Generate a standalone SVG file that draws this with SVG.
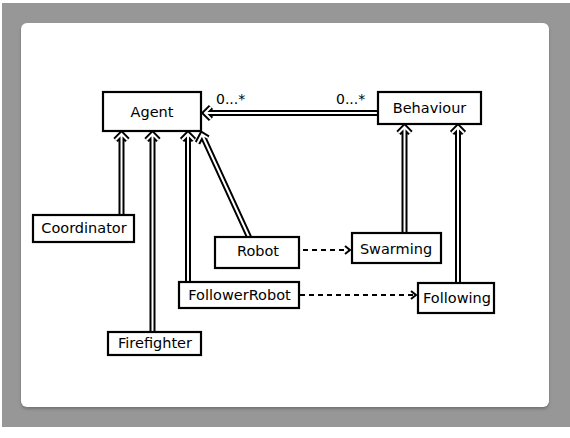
<svg xmlns="http://www.w3.org/2000/svg" width="570" height="438" viewBox="0 0 570 438">
  <style>
    .box { fill: #ffffff; stroke: #000000; stroke-width: 2.2; }
    .lbl { font-family: "DejaVu Sans", Verdana, sans-serif; font-size: 14.5px; fill: #000000; text-anchor: middle; }
    .mult { font-family: "DejaVu Sans", Verdana, sans-serif; font-size: 14px; fill: #000000; }
    .outer { fill: none; stroke: #000000; stroke-width: 6; stroke-linejoin: miter; stroke-linecap: butt; }
    .inner { fill: none; stroke: #ffffff; stroke-width: 2; stroke-linejoin: miter; stroke-linecap: butt; }
    .dash { fill: none; stroke: #000000; stroke-width: 2; stroke-dasharray: 5 4; }
    .head { fill: none; stroke: #000000; stroke-width: 2; }
  </style>
  <defs>
    <filter id="shadow" x="-5%" y="-5%" width="110%" height="115%">
      <feGaussianBlur stdDeviation="1.5"/>
    </filter>
    <path id="c-assoc" d="M378,113 H205 M211,107 L205,113 L211,119"/>
    <path id="c-coord" d="M121.5,215 V134 M115.5,140 L121.5,134 L127.5,140"/>
    <path id="c-fire" d="M152.5,332 V134 M146.5,140 L152.5,134 L158.5,140"/>
    <path id="c-frob" d="M188,282 V134 M182,140 L188,134 L194,140"/>
    <path id="c-robot" d="M249,237 L202,134.5 M208,138 L202,134.5 L197.5,143"/>
    <path id="c-swarm" d="M404.5,233 V127 M398.5,133 L404.5,127 L410.5,133"/>
    <path id="c-follow" d="M458,282 V127 M452,133 L458,127 L464,133"/>
  </defs>

  <rect x="2" y="3" width="568" height="424" fill="#979797"/>
  <rect x="21" y="25" width="528" height="384" rx="6" fill="#5a5a5a" opacity="0.6" filter="url(#shadow)"/>
  <rect x="21" y="23" width="528" height="384" rx="6" fill="#ffffff"/>

  <g id="connectors">
    <use href="#c-assoc" class="outer"/><use href="#c-assoc" class="inner"/>
    <use href="#c-coord" class="outer"/><use href="#c-coord" class="inner"/>
    <use href="#c-fire" class="outer"/><use href="#c-fire" class="inner"/>
    <use href="#c-frob" class="outer"/><use href="#c-frob" class="inner"/>
    <use href="#c-robot" class="outer"/><use href="#c-robot" class="inner"/>
    <use href="#c-swarm" class="outer"/><use href="#c-swarm" class="inner"/>
    <use href="#c-follow" class="outer"/><use href="#c-follow" class="inner"/>
    <path class="dash" d="M303,250 H349"/>
    <path class="head" d="M345,246 L350,250 L345,254"/>
    <path class="dash" d="M300,295 H415"/>
    <path class="head" d="M411,291 L416,295 L411,299"/>
    <text class="mult" x="216" y="104">0...*</text>
    <text class="mult" x="336" y="104">0...*</text>
  </g>

  <g id="agent"><rect class="box" x="103" y="92" width="98" height="39"/><text class="lbl" x="152" y="117">Agent</text></g>
  <g id="behaviour"><rect class="box" x="378" y="92" width="103" height="32"/><text class="lbl" x="429.5" y="113">Behaviour</text></g>
  <g id="coordinator"><rect class="box" x="33" y="215" width="101" height="27"/><text class="lbl" x="84" y="233">Coordinator</text></g>
  <g id="robot"><rect class="box" x="215" y="237" width="84" height="31"/><text class="lbl" x="258" y="256">Robot</text></g>
  <g id="swarming"><rect class="box" x="352" y="233" width="89" height="30"/><text class="lbl" x="396" y="254">Swarming</text></g>
  <g id="followerrobot"><rect class="box" x="179" y="282" width="120" height="26"/><text class="lbl" x="239.5" y="300">FollowerRobot</text></g>
  <g id="following"><rect class="box" x="418" y="283" width="76" height="30"/><text class="lbl" x="457" y="303">Following</text></g>
  <g id="firefighter"><rect class="box" x="108" y="332" width="93" height="23"/><text class="lbl" x="155" y="348">Firefighter</text></g>
</svg>
